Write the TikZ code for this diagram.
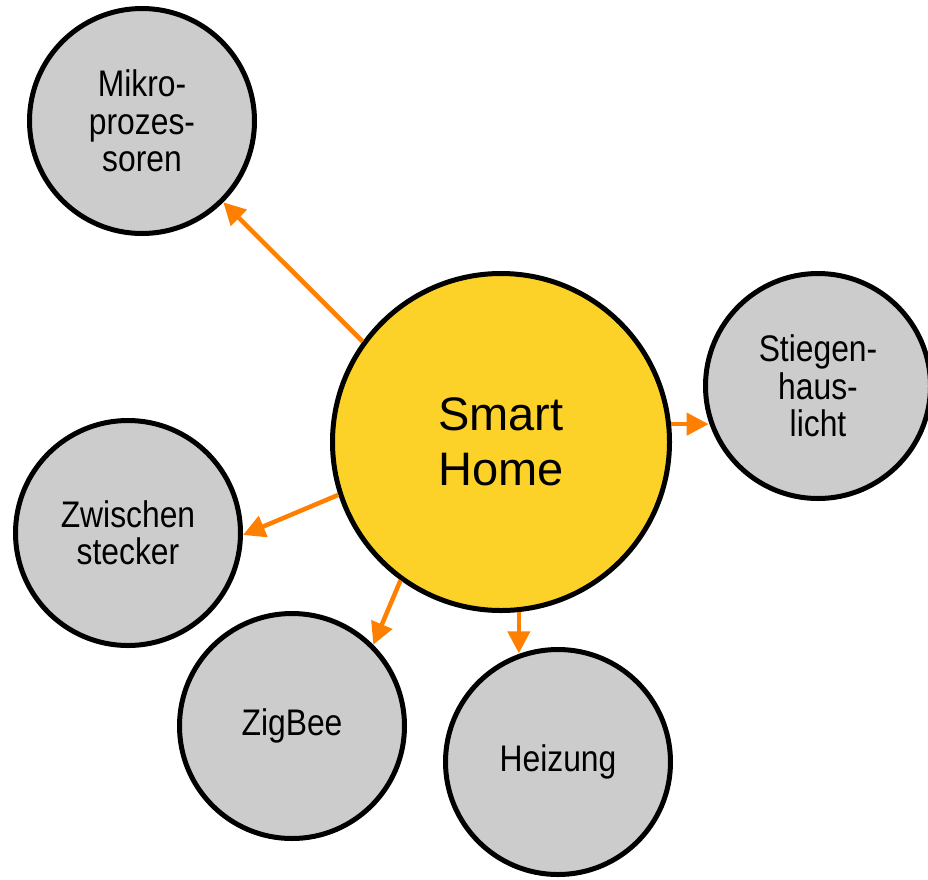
\documentclass[tikz,border=0pt]{standalone}
\usepackage{fontspec}
\setmainfont{Liberation Sans}
\newfontfamily\narrowfont[FakeStretch=0.86]{Liberation Sans}
\usetikzlibrary{arrows.meta}
\definecolor{shyellow}{RGB}{253,210,40}
\definecolor{bubgray}{RGB}{204,204,204}
\definecolor{arrorange}{RGB}{255,128,0}
\begin{document}
\begin{tikzpicture}[x=1pt,y=-1pt,
 hub/.style={circle, draw=black, line width=5pt, fill=shyellow, minimum size=337pt, inner sep=0pt, align=center, font=\fontsize{47}{55}\selectfont},
 leaf/.style={circle, draw=black, line width=5pt, fill=bubgray, minimum size=225pt, inner sep=0pt, align=center, font=\narrowfont\fontsize{37}{37.5}\selectfont},
 link/.style={draw=arrorange, line width=4.5pt, -{Triangle[length=22pt,width=22pt]}}
]
\useasboundingbox (0,0) rectangle (928,879);
\node[hub] (sh) at (501,442) {Smart\\Home};
\node[leaf] (mp) at (142,121) {Mikro-\\prozes-\\soren};
\node[leaf] (st) at (818,386) {Stiegen-\\haus-\\licht};
\node[leaf] (zw) at (128,533) {Zwischen\\stecker};
\node[leaf] (zb) at (292,726) {ZigBee};
\node[leaf] (hz) at (558,762) {Heizung};
\draw[link] (sh.144.5) -- (mp.315);
\draw[link] (sh.6) -- (sh.6 -| st.198.9);
\draw[link] (sh.198.1) -- (zw.-1.5);
\draw[link] (sh.234.5) -- (zb.45);
\draw[link] (sh.276) -- (sh.276 |- hz.109.7);
\end{tikzpicture}
\end{document}
